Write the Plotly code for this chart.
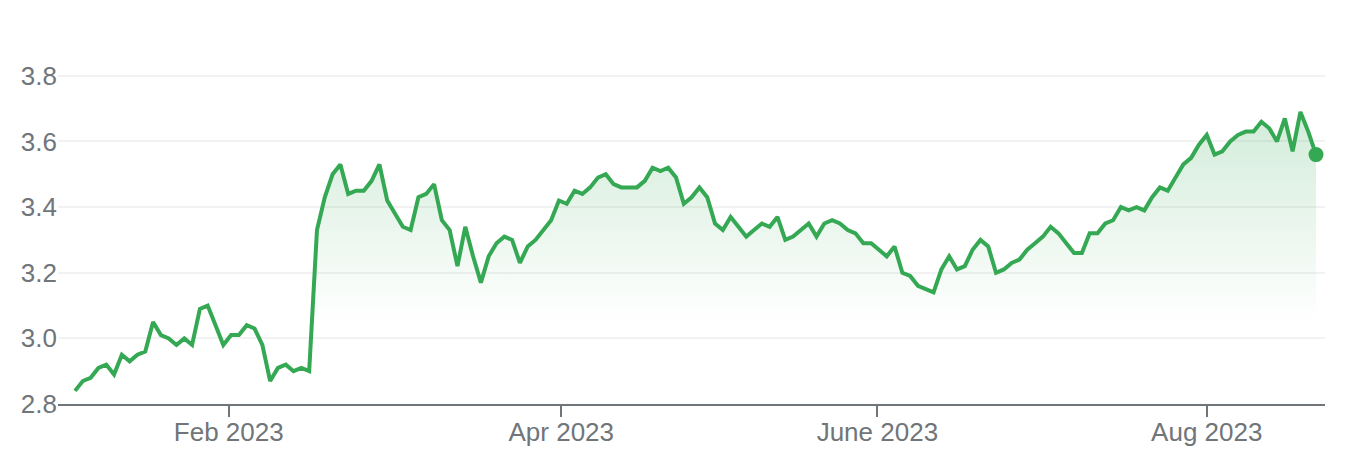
import plotly.graph_objects as go

# Daily closing values (one per trading session)
prices = [
    2.84, 2.87, 2.88, 2.91, 2.92, 2.89, 2.95, 2.93, 2.95, 2.96,
    3.05, 3.01, 3.00, 2.98, 3.00, 2.98, 3.09, 3.10, 3.04, 2.98,
    3.01, 3.01, 3.04, 3.03, 2.98, 2.87, 2.91, 2.92, 2.90, 2.91,
    2.90, 3.33, 3.43, 3.50, 3.53, 3.44, 3.45, 3.45, 3.48, 3.53,
    3.42, 3.38, 3.34, 3.33, 3.43, 3.44, 3.47, 3.36, 3.33, 3.22,
    3.34, 3.25, 3.17, 3.25, 3.29, 3.31, 3.30, 3.23, 3.28, 3.30,
    3.33, 3.36, 3.42, 3.41, 3.45, 3.44, 3.46, 3.49, 3.50, 3.47,
    3.46, 3.46, 3.46, 3.48, 3.52, 3.51, 3.52, 3.49, 3.41, 3.43,
    3.46, 3.43, 3.35, 3.33, 3.37, 3.34, 3.31, 3.33, 3.35, 3.34,
    3.37, 3.30, 3.31, 3.33, 3.35, 3.31, 3.35, 3.36, 3.35, 3.33,
    3.32, 3.29, 3.29, 3.27, 3.25, 3.28, 3.20, 3.19, 3.16, 3.15,
    3.14, 3.21, 3.25, 3.21, 3.22, 3.27, 3.30, 3.28, 3.20, 3.21,
    3.23, 3.24, 3.27, 3.29, 3.31, 3.34, 3.32, 3.29, 3.26, 3.26,
    3.32, 3.32, 3.35, 3.36, 3.40, 3.39, 3.40, 3.39, 3.43, 3.46,
    3.45, 3.49, 3.53, 3.55, 3.59, 3.62, 3.56, 3.57, 3.60, 3.62,
    3.63, 3.63, 3.66, 3.64, 3.60, 3.67, 3.57, 3.69, 3.63, 3.56,
]
session = list(range(len(prices)))

# Month tick labels and their positions on the session axis
tick_labels = ["Feb 2023", "Apr 2023", "June 2023", "Aug 2023"]
tick_positions = [19.7, 62.3, 102.8, 145.0]

y_ticks = [2.8, 3.0, 3.2, 3.4, 3.6, 3.8]

GREEN = "#34a853"
GRAY = "#70757a"

fig = go.Figure()
fig.add_trace(go.Scatter(
    x=session, y=prices, mode="lines",
    line=dict(color=GREEN, width=4),
    fill="tozeroy",
    fillgradient=dict(
        type="vertical",
        start=3.05, stop=3.69,
        colorscale=[[0, "rgba(52,168,83,0.0)"], [1, "rgba(52,168,83,0.22)"]],
    ),
    hoverinfo="skip",
    showlegend=False,
))
fig.add_trace(go.Scatter(
    x=[session[-1]], y=[prices[-1]], mode="markers",
    marker=dict(color=GREEN, size=15),
    hoverinfo="skip", showlegend=False, cliponaxis=False,
))

# the page body adds an 8px margin around the figure
fig.update_layout(
    width=1334, height=446,
    margin=dict(l=50, r=17, t=35, b=50),
    paper_bgcolor="white", plot_bgcolor="white",
    font=dict(family="Liberation Sans, Arial, sans-serif", color=GRAY, size=26),
    xaxis=dict(
        range=[-2.18, 160.15], automargin=False,
        tickmode="array", tickvals=tick_positions, ticktext=tick_labels,
        showgrid=False, zeroline=False,
        showline=True, linecolor=GRAY, linewidth=2,
        ticks="outside", ticklen=11, tickwidth=1.5, tickcolor=GRAY,
        tickfont=dict(size=26, color=GRAY),
        ticklabelstandoff=-7,
    ),
    yaxis=dict(
        range=[2.8, 3.9], automargin=False,
        tickmode="array", tickvals=y_ticks,
        ticktext=[f"{v:.1f}" for v in y_ticks],
        showgrid=True, gridcolor="#f2f2f2", gridwidth=1.5,
        zeroline=False, showline=False, ticks="",
        tickfont=dict(size=26, color=GRAY),
    ),
)

fig.write_html("out.html")
